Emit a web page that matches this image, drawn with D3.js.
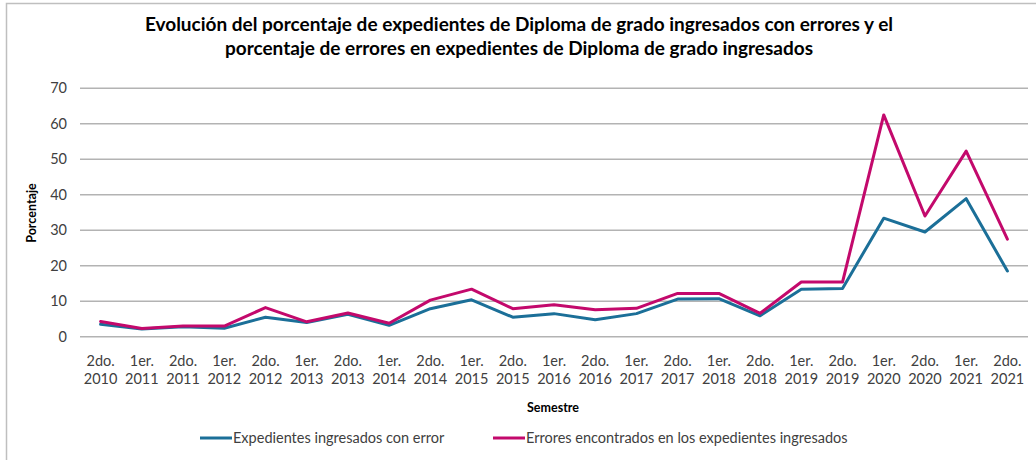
<!DOCTYPE html>
<html>
<head>
<meta charset="utf-8">
<script src="https://cdn.jsdelivr.net/npm/d3@7"></script>
<style>
  html, body { margin: 0; padding: 0; background: #fff; }
  svg { display: block; font-family: Lato, "Open Sans", sans-serif; }
</style>
</head>
<body>
<svg id="chart" width="1036" height="460"></svg>
<script>
const categories = [
  "2do. 2010","1er. 2011","2do. 2011","1er. 2012","2do. 2012","1er. 2013","2do. 2013","1er. 2014",
  "2do. 2014","1er. 2015","2do. 2015","1er. 2016","2do. 2016","1er. 2017","2do. 2017","1er. 2018",
  "2do. 2018","1er. 2019","2do. 2019","1er. 2020","2do. 2020","1er. 2021","2do. 2021"
];
const expedientes = [3.5, 2.2, 2.8, 2.4, 5.5, 4.0, 6.3, 3.2, 7.9, 10.4, 5.5, 6.5, 4.8, 6.5, 10.6, 10.7, 5.9, 13.4, 13.6, 33.4, 29.5, 38.9, 18.5];
const errores = [4.3, 2.3, 3.0, 3.0, 8.2, 4.2, 6.7, 3.8, 10.3, 13.4, 7.9, 9.0, 7.6, 8.0, 12.2, 12.2, 6.6, 15.4, 15.4, 62.5, 34.0, 52.3, 27.5];
const yTicks = [0, 10, 20, 30, 40, 50, 60, 70];
const seriesNames = ["Expedientes ingresados con error", "Errores encontrados en los expedientes ingresados"];
const titleLines = [
  "Evolución del porcentaje de expedientes de Diploma de grado ingresados con errores y el",
  "porcentaje de errores en expedientes de Diploma de grado ingresados"
];

const colors = ["#1b6f98", "#c3096c"];
const svg = d3.select("#chart");
const m = { left: 80, right: 1028, top: 88.3, bottom: 336.7 };

// outer border
svg.append("rect").attr("x", 6.5).attr("y", 3.5).attr("width", 1040).attr("height", 470)
  .attr("fill", "#fff").attr("stroke", "#bfbfbf").attr("stroke-width", 1.5);

const x = d3.scaleBand().domain(categories).range([m.left, m.right]).paddingInner(0).paddingOuter(0);
const y = d3.scaleLinear().domain([0, 70]).range([m.bottom, m.top]);

// gridlines
svg.append("g").selectAll("line").data(yTicks).join("line")
  .attr("x1", m.left).attr("x2", m.right)
  .attr("y1", d => y(d)).attr("y2", d => y(d))
  .attr("stroke", "#b3b3b3").attr("stroke-width", 1.5);

// y axis labels
const yAxis = d3.axisLeft(y).tickValues(yTicks).tickSize(0).tickPadding(0);
const gy = svg.append("g").attr("transform", `translate(${m.left - 13},0)`).call(yAxis);
gy.select(".domain").remove();
gy.selectAll("text").attr("font-size", 14.5).attr("fill", "#404040").attr("font-family", "Lato, sans-serif");

// x axis labels (two lines)
const gx = svg.append("g");
categories.forEach(c => {
  const parts = c.split(" ");
  const t = gx.append("text").attr("text-anchor", "middle")
    .attr("font-size", 14.5).attr("fill", "#404040");
  t.append("tspan").attr("x", x(c) + x.bandwidth() / 2).attr("y", 366).text(parts[0]);
  t.append("tspan").attr("x", x(c) + x.bandwidth() / 2).attr("y", 384).text(parts[1]);
});

// lines
const line = d3.line().x((d, i) => x(categories[i]) + x.bandwidth() / 2).y(d => y(d));
[expedientes, errores].forEach((s, k) => {
  svg.append("path").datum(s).attr("d", line)
    .attr("fill", "none").attr("stroke", colors[k]).attr("stroke-width", 3)
    .attr("stroke-linejoin", "round").attr("stroke-linecap", "round");
});

// title
titleLines.forEach((t, i) => {
  svg.append("text").attr("x", 519).attr("y", 31 + i * 24).attr("text-anchor", "middle")
    .attr("font-size", 19).attr("font-weight", "bold").attr("fill", "#000").text(t);
});

// axis titles
svg.append("text").attr("transform", "translate(36,213) rotate(-90)").attr("text-anchor", "middle")
  .attr("font-size", 12.5).attr("font-weight", "bold").attr("fill", "#000").text("Porcentaje");
svg.append("text").attr("x", 553).attr("y", 412).attr("text-anchor", "middle")
  .attr("font-size", 12.5).attr("font-weight", "bold").attr("fill", "#000").text("Semestre");

// legend
const legX = [200, 493];
seriesNames.forEach((n, k) => {
  svg.append("line").attr("x1", legX[k]).attr("x2", legX[k] + 32).attr("y1", 438).attr("y2", 438)
    .attr("stroke", colors[k]).attr("stroke-width", 3);
  svg.append("text").attr("x", legX[k] + 33).attr("y", 443).attr("font-size", 14.5)
    .attr("fill", "#404040").text(n);
});
</script>
</body>
</html>
